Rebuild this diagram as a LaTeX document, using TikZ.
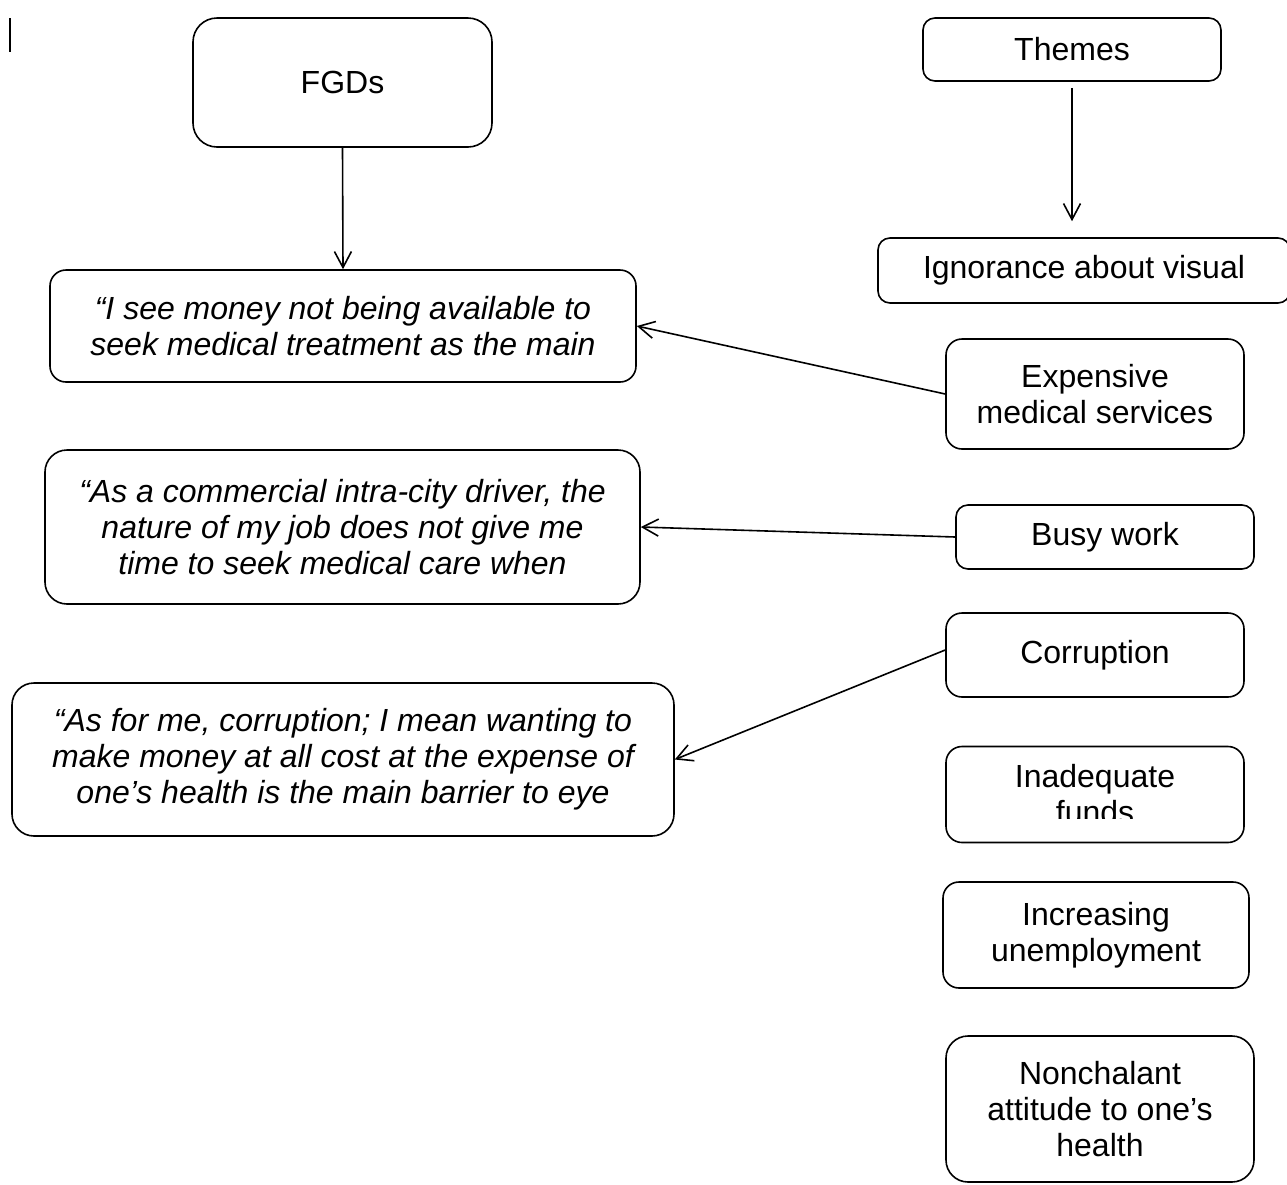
\documentclass[tikz,border=0pt]{standalone}
\usepackage{fontspec}
\setmainfont{Liberation Sans}
\usetikzlibrary{arrows.meta}

\tikzset{
  theme/.style={draw, line width=0.8pt, rounded corners=8pt, align=center,
    inner sep=0pt, font=\fontsize{16}{18}\selectfont},
  quote/.style={theme, font=\fontsize{16}{18}\selectfont\itshape},
  link/.style={line width=0.8pt, -{Straight Barb[length=8pt,width=8.5pt]}}
}

\begin{document}
\begin{tikzpicture}[x=0.5pt, y=-0.5pt]
    %%Background
    \useasboundingbox (0,0) rectangle (1287,1185);
    \draw[line width=0.8pt] (10,18) to (10,52);

    %%Left column
    \node[theme, rounded corners=12pt, minimum width=149.5pt, minimum height=64.5pt] (fgds) at (342.5,82.5) {FGDs};
    \node[quote, minimum width=293pt, minimum height=56pt] (money) at (343,326)
      {“I see money not being available to\\seek medical treatment as the main};
    \node[quote, rounded corners=11pt, minimum width=297.5pt, minimum height=77pt] (driver) at (342.5,527)
      {“As a commercial intra-city driver, the\\nature of my job does not give me\\time to seek medical care when};
    \node[quote, rounded corners=11pt, minimum width=331pt, minimum height=76.5pt] (cost) at (343,759.5)
      {“As for me, corruption; I mean wanting to\\make money at all cost at the expense of\\one’s health is the main barrier to eye};

    %%Right column
    \node[theme, rounded corners=6pt, minimum width=149pt, minimum height=31.5pt] (themes) at (1072,49.5) {Themes};
    \node[theme, rounded corners=6pt, minimum width=206pt, minimum height=32.5pt] (ignorance) at (1084,270.5) {Ignorance about visual};
    \node[theme, minimum width=149pt, minimum height=55pt] (expensive) at (1095,394) {Expensive\\medical services};
    \node[theme, rounded corners=6pt, minimum width=149pt, minimum height=32pt] (busy) at (1105,537) {Busy work};
    \node[theme, minimum width=149pt, minimum height=42pt] (corruption) at (1095,655) {Corruption};
    \node[theme, minimum width=149pt, minimum height=48pt] (funds) at (1095,794.5) {Inadequate\\funds};
    \node[theme, minimum width=153pt, minimum height=53pt] (unemployment) at (1096,935) {Increasing\\unemployment};
    \node[theme, rounded corners=11pt, minimum width=154pt, minimum height=73pt] (attitude) at (1100,1109) {Nonchalant\\attitude to one’s\\health};
    \fill[white] (960,819) rectangle (1230,837);

    %%Arrows
    \draw[link] (fgds.south) to (money.north);
    \draw[link, shorten <=3pt, shorten >=8pt] (themes.south) to (themes.south |- ignorance.north);
    \draw[link] (expensive.west) to (money.east);
    \draw[link] (busy.west) to (driver.east);
    \draw[link] ([yshift=2.5pt]corruption.west) to (cost.east);

\end{tikzpicture}
\end{document}
